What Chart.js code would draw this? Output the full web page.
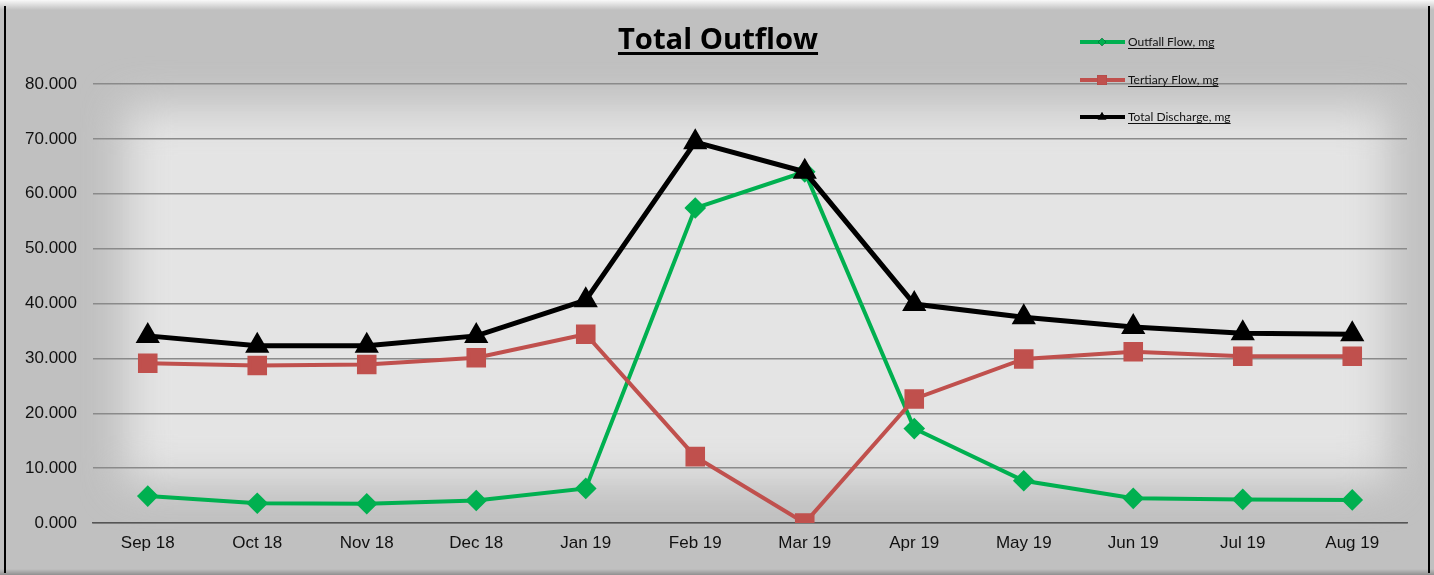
<!DOCTYPE html>
<html>
<head>
<meta charset="utf-8">
<script src="https://cdn.jsdelivr.net/npm/chart.js@4"></script>
<style>
  html, body { margin: 0; padding: 0; background: #c0c0c0; }
  #wrap { width: 1434px; height: 575px; }
</style>
</head>
<body>
<div id="wrap"><canvas id="chart" width="1434" height="575"></canvas></div>
<script>
// data
const months = ["Sep 18", "Oct 18", "Nov 18", "Dec 18", "Jan 19", "Feb 19",
                "Mar 19", "Apr 19", "May 19", "Jun 19", "Jul 19", "Aug 19"]
const outfallFlow = [4.9, 3.6, 3.5, 4.1, 6.3, 57.4, 64.0, 17.2, 7.7, 4.5, 4.3, 4.2]
const tertiaryFlow = [29.1, 28.7, 28.9, 30.1, 34.4, 12.1, 0.0, 22.6, 29.9, 31.2, 30.4, 30.4]
const totalDischarge = [34.1, 32.3, 32.3, 34.1, 40.6, 69.4, 64.0, 39.9, 37.5, 35.7, 34.6, 34.4]
const yTicks = [0, 10, 20, 30, 40, 50, 60, 70, 80]

// grey panel with the soft light glow behind the plot
const backdrop = {
  id: "backdrop",
  beforeDraw(chart) {
    const c = chart.ctx
    const w = chart.width, h = chart.height
    c.save()
    c.fillStyle = "#c0c0c0"
    c.fillRect(0, 0, w, h)

    c.filter = "blur(22px)"
    c.fillStyle = "#e4e4e4"
    c.fillRect(126, 108, 1262, 374)
    c.filter = "none"

    // top highlight strip
    let g = c.createLinearGradient(0, 0, 0, 10)
    g.addColorStop(0, "rgba(255,255,255,0.9)")
    g.addColorStop(1, "rgba(255,255,255,0)")
    c.fillStyle = g
    c.fillRect(0, 0, w, 10)

    // bottom shade
    g = c.createLinearGradient(0, h - 6, 0, h)
    g.addColorStop(0, "rgba(0,0,0,0)")
    g.addColorStop(1, "rgba(0,0,0,0.25)")
    c.fillStyle = g
    c.fillRect(0, h - 6, w, 6)

    // side borders
    c.fillStyle = "#000"
    c.fillRect(4, 6, 2, h - 8)
    c.fillRect(1428, 6, 2, h - 8)
    c.restore()
  }
}

// underlined title and legend, drawn by hand
const decor = {
  id: "decor",
  afterDraw(chart) {
    const c = chart.ctx
    c.save()

    // title
    const title = "Total Outflow"
    c.font = "bold 30px 'Open Sans'"
    let tw = c.measureText(title).width
    const size = 30 * 200 / tw
    c.font = "bold " + size.toFixed(1) + "px 'Open Sans'"
    tw = c.measureText(title).width
    c.fillStyle = "#000"
    c.textBaseline = "alphabetic"
    c.textAlign = "left"
    const tx = 718 - tw / 2
    c.fillText(title, tx, 49)
    c.fillRect(tx, 52, tw, 3)

    // legend
    const rows = [42, 80, 117]
    const sets = chart.data.datasets
    sets.forEach((ds, i) => {
      const y = rows[i]
      c.strokeStyle = ds.borderColor
      c.lineWidth = 4
      c.beginPath()
      c.moveTo(1080, y)
      c.lineTo(1125, y)
      c.stroke()
      Chart.helpers.drawPoint(c, {
        pointStyle: ds.pointStyle,
        radius: ds.legendRadius,
        borderWidth: 0
      }, 1102, y)
      c.fillStyle = ds.borderColor
      c.fill()

      c.font = "12px Lato"
      c.fillStyle = "#111"
      const lw = c.measureText(ds.label).width
      c.fillText(ds.label, 1128, y + 4)
      c.fillRect(1128, y + 6, lw, 1)
    })
    c.restore()
  }
}

new Chart(document.getElementById("chart"), {
  type: "line",
  data: {
    labels: months,
    datasets: [
      {
        label: "Outfall Flow, mg",
        data: outfallFlow,
        borderColor: "#00b050",
        backgroundColor: "#00b050",
        borderWidth: 4,
        pointStyle: "rectRot",
        pointRadius: 8,
        legendRadius: 4,
        order: 3
      },
      {
        label: "Tertiary Flow, mg",
        data: tertiaryFlow,
        borderColor: "#c0504d",
        backgroundColor: "#c0504d",
        borderWidth: 4,
        pointStyle: "rect",
        pointRadius: 11,
        legendRadius: 7,
        order: 2
      },
      {
        label: "Total Discharge, mg",
        data: totalDischarge,
        borderColor: "#000000",
        backgroundColor: "#000000",
        borderWidth: 5,
        pointStyle: "triangle",
        pointRadius: 9,
        legendRadius: 5,
        order: 1
      }
    ]
  },
  options: {
    responsive: false,
    animation: false,
    events: [],
    layout: { padding: { left: 0, top: 84, right: 27, bottom: 0 } },
    plugins: {
      legend: { display: false },
      title: { display: false },
      tooltip: { enabled: false }
    },
    elements: {
      line: { tension: 0 },
      point: { borderWidth: 0, hoverRadius: 0 }
    },
    scales: {
      x: {
        offset: true,
        afterFit: s => { s.height = 52 },
        grid: { display: false, drawTicks: false },
        border: { display: true, color: "#555", width: 1.5 },
        ticks: {
          color: "#111",
          padding: 10,
          maxRotation: 0,
          font: { family: "'Liberation Sans'", size: 17 }
        }
      },
      y: {
        min: 0,
        max: 80,
        afterFit: s => { s.width = 93 },
        afterBuildTicks: s => { s.ticks = yTicks.map(v => ({ value: v })) },
        grid: { color: "#8a8a8a", lineWidth: 1.5, drawTicks: false },
        border: { display: false },
        ticks: {
          color: "#111",
          padding: 16,
          font: { family: "'Liberation Sans'", size: 17 },
          callback: v => v.toFixed(3)
        }
      }
    }
  },
  plugins: [backdrop, decor]
})
</script>
</body>
</html>
